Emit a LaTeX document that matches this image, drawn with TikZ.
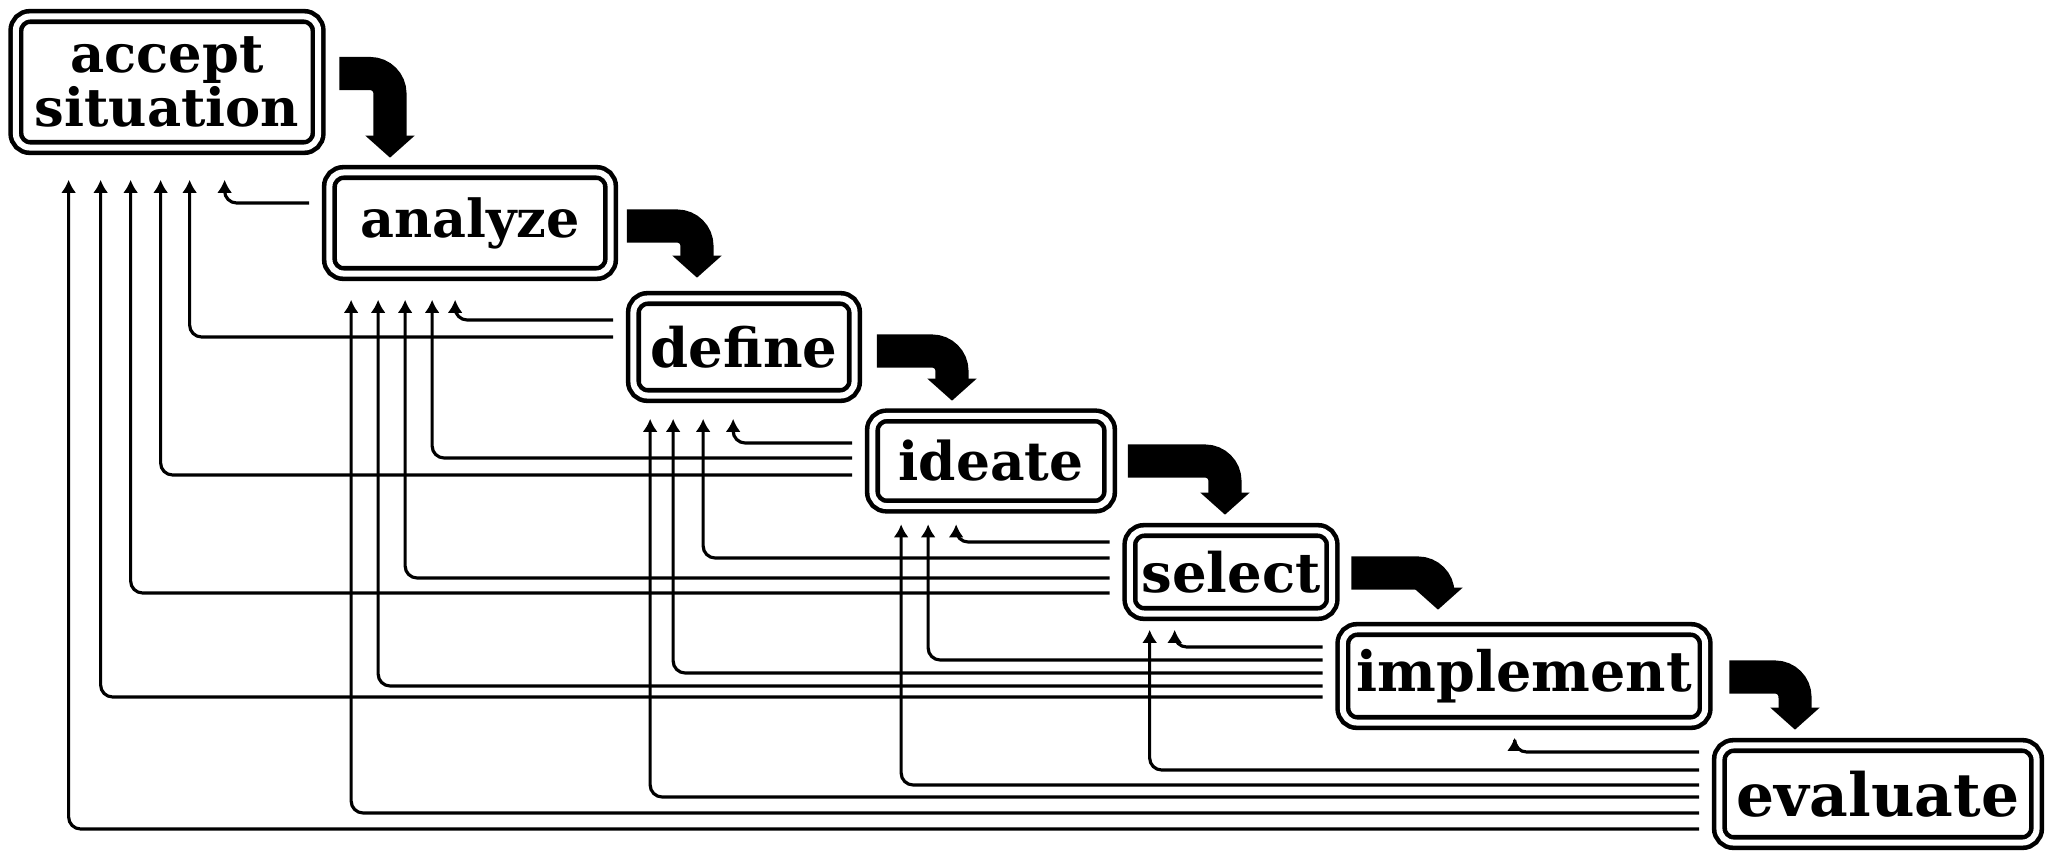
\documentclass[tikz,border=0pt]{standalone}
\usepackage{fontspec}
\setmainfont{DejaVu Serif}
\usepackage{tikz}
\usetikzlibrary{arrows.meta}
\usetikzlibrary{calc}

\tikzset{
  stage/.style={draw, double, double distance=0.06cm, line width=1.3pt, rounded corners=0.14cm, inner sep=0pt},
  feedback/.style={line width=0.9pt, rounded corners=0.12cm, -{Latex[length=0.13cm,width=0.15cm]}},
  flow/.style={line width=0.33cm, rounded corners=0.2cm, -{Triangle[length=0.22cm,width=0.48cm]}}
}

\begin{document}
\begin{tikzpicture}[x=0.01cm, y=-0.01cm]
  \useasboundingbox (0,0) rectangle (2056,851);
  \node[stage, minimum width=3.02cm, minimum height=1.31cm, align=center, font=\bfseries\fontsize{15}{11.5}\selectfont] (accept) at (167,82) {accept\\situation};
  \node[stage, minimum width=2.81cm, minimum height=1.01cm, font=\bfseries\fontsize{14.9}{16}\selectfont] (analyze) at (470,223) {analyze};
  \node[stage, minimum width=2.21cm, minimum height=0.97cm, font=\bfseries\fontsize{15.5}{16}\selectfont] (define) at (744,347) {define};
  \node[stage, minimum width=2.37cm, minimum height=0.90cm, font=\bfseries\fontsize{15.2}{16}\selectfont] (ideate) at (991,461) {ideate};
  \node[stage, minimum width=2.02cm, minimum height=0.83cm, font=\bfseries\fontsize{15.5}{16}\selectfont] (select) at (1231,572) {select};
  \node[stage, minimum width=3.62cm, minimum height=0.93cm, font=\bfseries\fontsize{15.8}{18}\selectfont] (implement) at (1524,676) {implement};
  \node[stage, minimum width=3.17cm, minimum height=0.97cm, font=\bfseries\fontsize{17}{18}\selectfont] (evaluate) at (1878,794) {evaluate};

  % big arrows down the staircase
  \foreach \a/\b/\sx/\sy/\tx/\ty in {accept/analyze/19/-8.5/-80/-12.5, analyze/define/14/3/-47/-18.5,
      define/ideate/20/4/-39/-13, ideate/select/16/0/-6/-13.5, select/implement/17/1/-86/-17.5,
      implement/evaluate/22/1/-83/-13.5}
    \draw[flow] ($(\a.east)+(\sx,\sy)$) -| ($(\b.north)+(\tx,\ty)$);

  % feedback to every earlier stage
  \foreach \s/\t/\dy/\dx/\ty in {analyze/accept/-20/211/30,
      define/analyze/-27/128/24, define/accept/-10/176/30,
      ideate/define/-18/102/21, ideate/analyze/-3/105/24, ideate/accept/14/147/30,
      select/ideate/-30/86/16, select/define/-14/72/21, select/analyze/6/78/24, select/accept/21/117/30,
      implement/select/-29/47/14, implement/ideate/-16/58/16, implement/define/-3/42/21,
      implement/analyze/10/51/24, implement/accept/21/87/30,
      evaluate/implement/-42/174/13, evaluate/select/-24/22/14, evaluate/ideate/-9/31/16,
      evaluate/define/3/19/21, evaluate/analyze/19/24/24, evaluate/accept/35/55/30}
    \draw[feedback] ($(\s.west)+(-18,\dy)$) -| ($(\t.south west)+(\dx,\ty)$);
\end{tikzpicture}
\end{document}
